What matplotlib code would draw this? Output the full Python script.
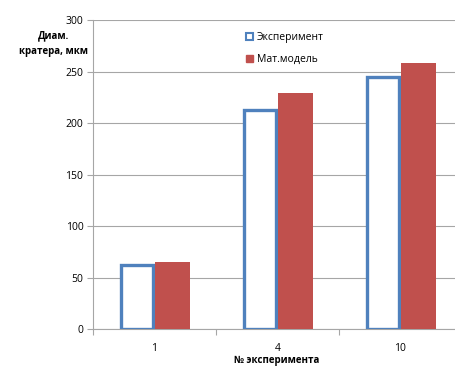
import numpy as np
import matplotlib
matplotlib.use("Agg")
import matplotlib.pyplot as plt
from matplotlib.patches import Patch

# данные
experiments = ["1", "4", "10"]
experiment_vals = [62, 213, 245]
model_vals = [65, 229, 258]

plt.rcParams['font.family'] = ['Open Sans', 'DejaVu Sans']

blue = "#4F81BD"
red = "#C0504D"
grid_c = "#A6A6A6"

fig = plt.figure(figsize=(4.56, 3.67), dpi=100)
ax = fig.add_axes([0.204, 0.1035, 0.809, 0.842])

x = np.arange(len(experiments))
w = 0.285
ax.bar(x - w / 2, experiment_vals, width=w - 0.02, facecolor="white",
       edgecolor=blue, linewidth=2.4, zorder=3)
ax.bar(x + w / 2 + 0.005, model_vals, width=w, color=red, zorder=3)

ax.set_xlim(-0.5, 2.5)
ax.set_ylim(0, 300)
ax.set_yticks(range(0, 301, 50))
ax.set_xticks(x)
ax.set_xticklabels(experiments)
ax.set_xticks([-0.5, 0.5, 1.5, 2.5], minor=True)
ax.tick_params(axis='x', which='major', length=0, pad=10, labelsize=7.5)
ax.tick_params(axis='x', which='minor', length=4, color=grid_c, width=0.8)
ax.tick_params(axis='y', length=4, color=grid_c, width=0.8, labelsize=7.5, pad=3)
ax.yaxis.grid(True, color=grid_c, linewidth=0.8, zorder=0)
for s in ['top', 'right']:
    ax.spines[s].set_visible(False)
for s in ['left', 'bottom']:
    ax.spines[s].set_color(grid_c)
    ax.spines[s].set_linewidth(0.8)

fig.text(0.118, 0.882, "Диам.\nкратера, мкм", ha='center', va='center',
         fontsize=7, fontweight='bold', linespacing=1.6)
fig.text(0.607, 0.002, "№ эксперимента", ha='center', va='bottom',
         fontsize=7, fontweight='bold')

handles = [Patch(facecolor="white", edgecolor=blue, linewidth=1.5),
           Patch(facecolor=red, edgecolor=red)]
ax.legend(handles, ["Эксперимент", "Мат.модель"], loc='upper left',
          bbox_to_anchor=(0.39, 0.99), frameon=False, fontsize=7.5,
          handlelength=0.6, handleheight=0.6, handletextpad=0.4,
          labelspacing=1.0)

fig.savefig("out.png", dpi=100)
